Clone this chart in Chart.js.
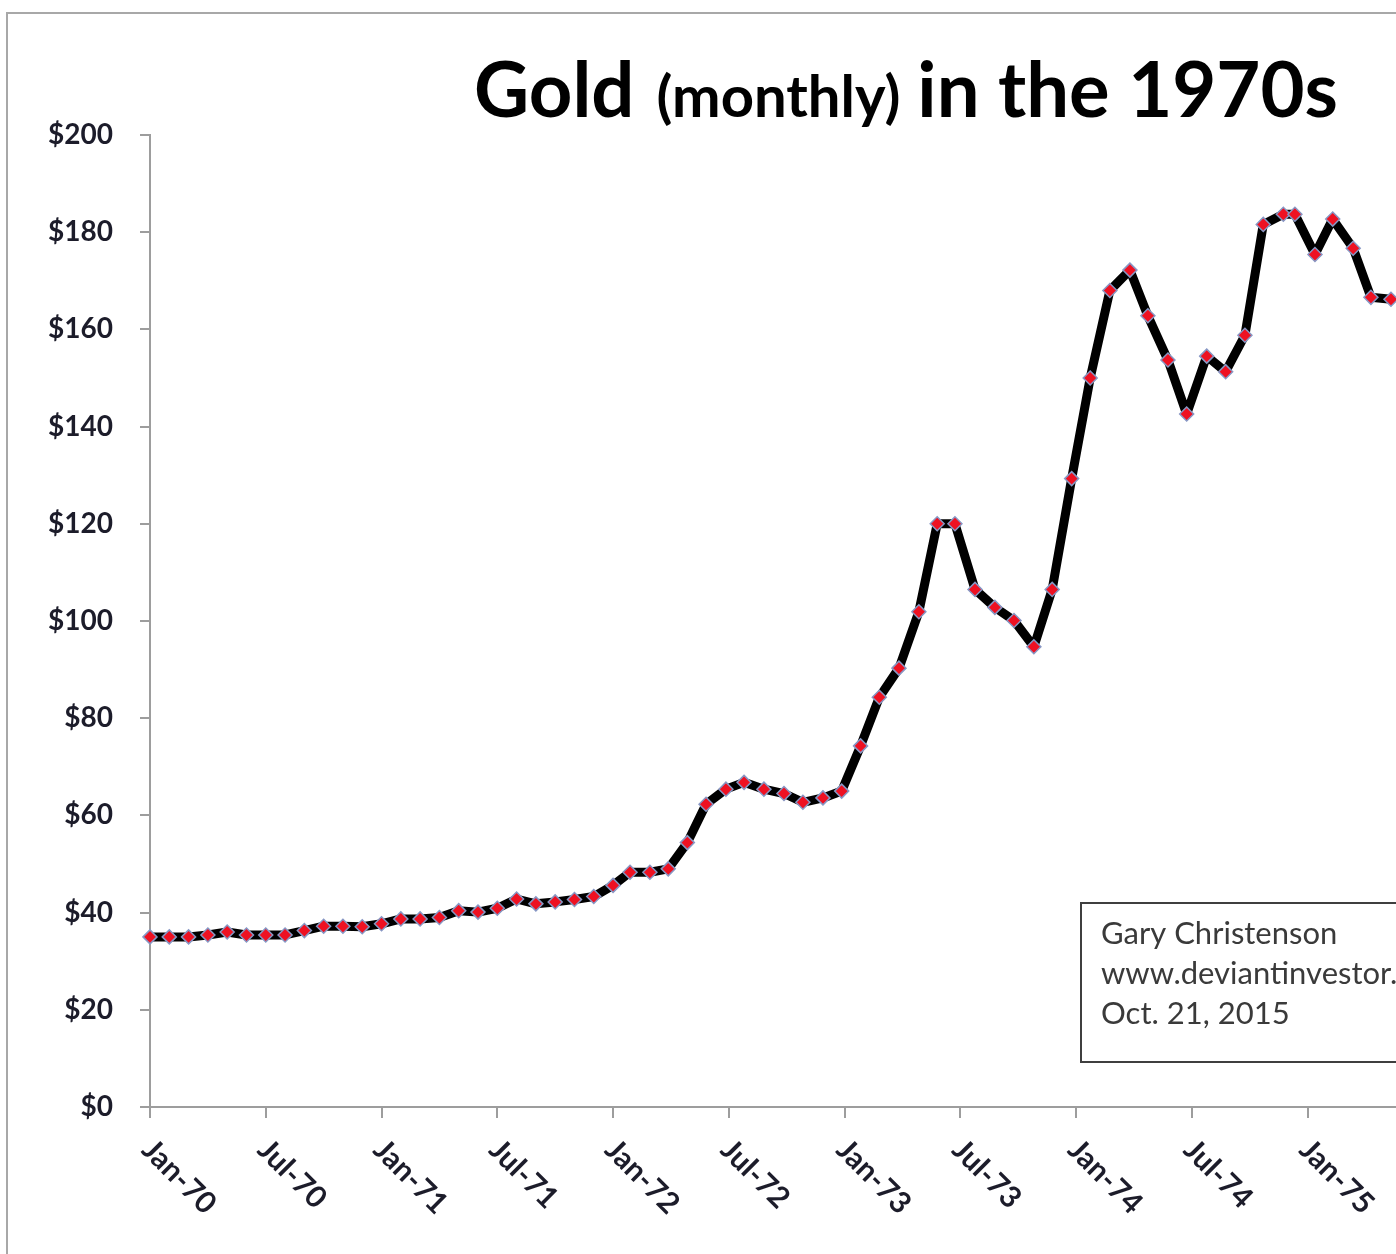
<!DOCTYPE html>
<html>
<head>
<meta charset="utf-8">
<title>Gold (monthly) in the 1970s</title>
<script src="https://cdn.jsdelivr.net/npm/chart.js@4.4.1/dist/chart.umd.min.js"></script>
<style>
  html, body { margin: 0; padding: 0; background: #fff; }
  #wrap { position: relative; width: 1396px; height: 1254px; }
</style>
</head>
<body>
<div id="wrap"><canvas id="goldChart" width="1396" height="1254"></canvas></div>
<script>
"use strict";

// months after Jan-70 where each point sits
const monthPos = [
    0, 1, 2, 3, 4, 5, 6, 7, 8, 9, 10, 11,
    12, 13, 14, 15, 16, 17, 18, 19, 20, 21, 22, 23,
    24, 24.88, 25.91, 26.86, 27.85, 28.82, 29.85, 30.79, 31.82, 32.86, 33.84, 34.88,
    35.85, 36.83, 37.8, 38.82, 39.85, 40.8, 41.72, 42.76, 43.79, 44.78, 45.81, 46.76,
    47.77, 48.73, 49.75, 50.79, 51.72, 52.76, 53.73, 54.77, 55.75, 56.75,
    57.7, 58.74, 59.34, 60.38, 61.3, 62.36, 63.28, 64.32
];

// gold price, USD per ounce
const goldPrice = [
    35.0, 35.0, 35.0, 35.4, 36.0, 35.4, 35.4, 35.4, 36.3, 37.2, 37.2, 37.1,
    37.7, 38.7, 38.7, 39.0, 40.4, 40.1, 40.9, 42.8, 41.8, 42.2, 42.7, 43.3,
    45.6, 48.3, 48.3, 49.0, 54.4, 62.3, 65.4, 66.8, 65.4, 64.5, 62.7, 63.6,
    65.0, 74.3, 84.3, 90.3, 101.9, 120.0, 120.0, 106.5, 102.8, 100.1, 94.7, 106.5,
    129.3, 150.0, 168.0, 172.2, 162.8, 153.7, 142.6, 154.5, 151.3, 158.8,
    181.6, 183.7, 183.7, 175.4, 182.7, 176.7, 166.6, 166.2
];

const tickMonths = [0, 6, 12, 18, 24, 30, 36, 42, 48, 54, 60];
const tickLabels = ['Jan-70', 'Jul-70', 'Jan-71', 'Jul-71', 'Jan-72', 'Jul-72',
    'Jan-73', 'Jul-73', 'Jan-74', 'Jul-74', 'Jan-75'];

const titleParts = ['Gold', '(monthly)', 'in the 1970s'];
const noteLines = ['Gary Christenson', 'www.deviantinvestor.com', 'Oct. 21, 2015'];

const AXIS_GREY = '#9d9d9d';
const LABEL_INK = '#1c1c2a';

// frame, title, slanted month labels and the author note
const extras = {
    id: 'extras',
    beforeDraw: (chart) => {
        let ctx = chart.ctx;
        ctx.save();
        ctx.fillStyle = '#fff';
        ctx.fillRect(0, 0, chart.width, chart.height);
        ctx.fillStyle = '#a8a8a8';
        ctx.fillRect(6, 12, chart.width - 6, 2);
        ctx.fillRect(6, 12, 2, chart.height - 12);
        ctx.restore();
    },
    afterDraw: (chart) => {
        let ctx = chart.ctx;
        let xScale = chart.scales.x;
        ctx.save();

        // title with a smaller middle part
        let big = 'bold 76px Lato';
        let small = 'bold 58px Lato';
        let x = 474;
        ctx.fillStyle = '#000';
        ctx.textBaseline = 'alphabetic';
        ctx.textAlign = 'left';
        ctx.font = big;
        ctx.fillText(titleParts[0], x, 117);
        x += ctx.measureText(titleParts[0]).width + 22;
        ctx.font = small;
        ctx.fillText(titleParts[1], x, 117);
        x += ctx.measureText(titleParts[1]).width + 17;
        ctx.font = big;
        ctx.fillText(titleParts[2], x, 117);

        // month labels, turned 45 degrees downwards
        ctx.font = 'bold 30px Lato';
        ctx.fillStyle = LABEL_INK;
        ctx.textBaseline = 'middle';
        for (let i = 0; i < tickMonths.length; i++) {
            let px = xScale.getPixelForValue(tickMonths[i]);
            ctx.save();
            ctx.translate(px - 3, 1145);
            ctx.rotate(Math.PI / 4);
            ctx.fillText(tickLabels[i], 0, 0);
            ctx.restore();
        }

        // note box
        ctx.strokeStyle = '#3f3f3f';
        ctx.lineWidth = 2;
        ctx.strokeRect(1081, 903, 400, 159);
        ctx.font = '31px Lato';
        ctx.fillStyle = '#3a3a3a';
        ctx.textBaseline = 'alphabetic';
        for (let i = 0; i < noteLines.length; i++) {
            ctx.fillText(noteLines[i], 1101, 944 + i * 40);
        }
        ctx.restore();
    }
};

const config = {
    type: 'line',
    data: {
        datasets: [{
            label: 'Gold',
            data: monthPos.map((m, i) => ({ x: m, y: goldPrice[i] })),
            borderColor: '#000',
            borderWidth: 9,
            borderJoinStyle: 'round',
            borderCapStyle: 'round',
            tension: 0,
            pointStyle: 'rectRot',
            pointRadius: 7,
            pointBackgroundColor: '#ee1122',
            pointBorderColor: '#8797c4',
            pointBorderWidth: 1.5,
            clip: false
        }]
    },
    options: {
        responsive: false,
        animation: false,
        devicePixelRatio: 1,
        layout: {
            autoPadding: false,
            padding: { top: 135, right: 0, bottom: 0, left: 0 }
        },
        plugins: {
            legend: { display: false },
            tooltip: { enabled: false }
        },
        scales: {
            x: {
                type: 'linear',
                min: 0,
                max: 64.58,
                afterBuildTicks: (s) => {
                    s.ticks = tickMonths.map((v) => ({ value: v }));
                },
                afterFit: (s) => {
                    s.height = 147;
                },
                ticks: { display: false },
                grid: {
                    drawOnChartArea: false,
                    drawTicks: true,
                    tickLength: 11,
                    color: AXIS_GREY,
                    lineWidth: 2
                },
                border: { color: AXIS_GREY, width: 2 }
            },
            y: {
                min: 0,
                max: 200,
                afterFit: (s) => {
                    s.width = 150;
                },
                ticks: {
                    stepSize: 20,
                    padding: 27,
                    color: LABEL_INK,
                    font: { family: 'Lato', weight: 'bold', size: 28 },
                    callback: (v) => '$' + v
                },
                grid: {
                    drawOnChartArea: false,
                    tickLength: 10,
                    color: AXIS_GREY,
                    lineWidth: 2
                },
                border: { color: AXIS_GREY, width: 2 }
            }
        }
    },
    plugins: [extras]
};

new Chart(document.getElementById('goldChart'), config);
</script>
</body>
</html>
